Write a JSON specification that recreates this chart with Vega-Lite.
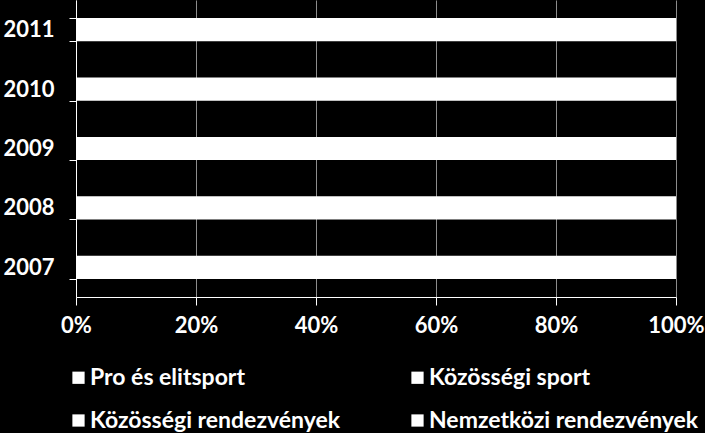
{
  "$schema": "https://vega.github.io/schema/vega-lite/v6.json",
  "width": 600,
  "height": 297,
  "autosize": "none",
  "padding": {"left": 76, "top": 0, "right": 29, "bottom": 136},
  "background": "black",
  "config": {
    "view": {"stroke": null},
    "font": "Lato"
  },
  "data": {
    "values": [
      {"year": "2007", "cat": "Pro és elitsport", "value": 42},
      {"year": "2007", "cat": "Közösségi sport", "value": 30},
      {"year": "2007", "cat": "Közösségi rendezvények", "value": 16},
      {"year": "2007", "cat": "Nemzetközi rendezvények", "value": 12},
      {"year": "2008", "cat": "Pro és elitsport", "value": 44},
      {"year": "2008", "cat": "Közösségi sport", "value": 29},
      {"year": "2008", "cat": "Közösségi rendezvények", "value": 15},
      {"year": "2008", "cat": "Nemzetközi rendezvények", "value": 12},
      {"year": "2009", "cat": "Pro és elitsport", "value": 45},
      {"year": "2009", "cat": "Közösségi sport", "value": 28},
      {"year": "2009", "cat": "Közösségi rendezvények", "value": 15},
      {"year": "2009", "cat": "Nemzetközi rendezvények", "value": 12},
      {"year": "2010", "cat": "Pro és elitsport", "value": 47},
      {"year": "2010", "cat": "Közösségi sport", "value": 27},
      {"year": "2010", "cat": "Közösségi rendezvények", "value": 14},
      {"year": "2010", "cat": "Nemzetközi rendezvények", "value": 12},
      {"year": "2011", "cat": "Pro és elitsport", "value": 48},
      {"year": "2011", "cat": "Közösségi sport", "value": 27},
      {"year": "2011", "cat": "Közösségi rendezvények", "value": 14},
      {"year": "2011", "cat": "Nemzetközi rendezvények", "value": 11}
    ]
  },
  "mark": {"type": "bar", "fill": "white", "stroke": null},
  "encoding": {
    "y": {
      "field": "year",
      "type": "nominal",
      "sort": "descending",
      "scale": {"paddingInner": 0.61, "paddingOuter": 0.305},
      "axis": {
        "title": null,
        "tickBand": "extent",
        "domainColor": "white",
        "tickColor": "white",
        "tickSize": 7,
        "labelColor": "white",
        "labelFont": "Lato",
        "labelFontWeight": "bold",
        "labelFontSize": 22,
        "labelPadding": 15,
        "grid": false
      }
    },
    "x": {
      "aggregate": "sum",
      "field": "value",
      "type": "quantitative",
      "stack": "normalize",
      "scale": {"domain": [0, 1], "nice": false},
      "axis": {
        "title": null,
        "format": ".0%",
        "values": [0, 0.2, 0.4, 0.6, 0.8, 1],
        "domainColor": "white",
        "tickColor": "white",
        "tickSize": 8,
        "labelColor": "white",
        "labelFont": "Lato",
        "labelFontWeight": "bold",
        "labelFontSize": 22,
        "labelPadding": 10,
        "labelFlush": false,
        "grid": true,
        "gridColor": "#8c8c8c",
        "gridOpacity": 1
      }
    },
    "color": {
      "field": "cat",
      "type": "nominal",
      "sort": ["Pro és elitsport", "Közösségi sport", "Közösségi rendezvények", "Nemzetközi rendezvények"],
      "scale": {"range": ["white", "white", "white", "white"]},
      "legend": {
        "title": null,
        "orient": "none",
        "legendX": -9,
        "legendY": 366,
        "columns": 2,
        "direction": "horizontal",
        "columnPadding": 65,
        "rowPadding": 19,
        "symbolType": "square",
        "symbolSize": 150,
        "symbolFillColor": "white",
        "symbolStrokeWidth": 0,
        "symbolOpacity": 1,
        "labelColor": "white",
        "labelFont": "Lato",
        "labelFontWeight": "bold",
        "labelFontSize": 23,
        "labelOffset": 0,
        "labelLimit": 400
      }
    },
    "order": {"field": "cat"}
  }
}
